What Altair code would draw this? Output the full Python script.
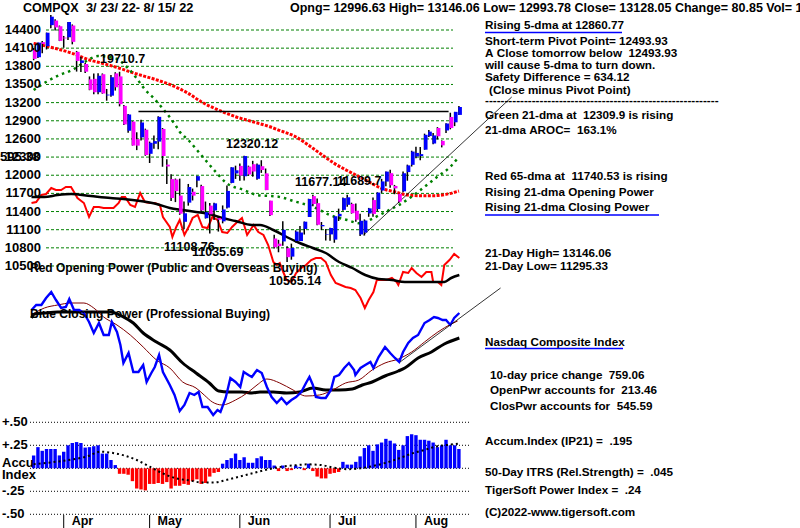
import altair as alt
import pandas as pd

FONT = "Liberation Sans"

# ---------------- data ----------------
opens = [14070,13950,14199,14133,14480,14556,14462,14274,14280,14474,
         14039,13856,13838,13584,13593,13372,13669,13319,13315,13683,
         13633,13146,12735,12886,12596,12625,12752,12354,12520,12556,
         12765,12175,11936,11930,11664,11230,11547,11727,11910,11821,
         11290,11498,11418,11291,11238,11465,11873,12030,12154,11983,
         12143,12182,11941,12149,12031,11580,10954,10869,10906,10794,
         10655,10912,10912,11112,11310,11655,11539,11156,11020,11022,
         10936,11320,11428,11511,11526,11413,11021,11053,11368,11590,
         11441,11747,11895,12034,11823,11692,11734,12052,12172,12310,
         12318,12422,12647,12524,12781,12567,12740,12963,12875,12997]
highs = [14103,14193,14220,14357,14646,14578,14474,14302,14534,14492,
         14054,13957,13857,13633,13680,13685,13682,13426,13656,13702,
         13710,13160,13012,12894,12710,12915,12770,12556,12658,12975,
         12781,12263,12016,11945,11944,11564,11856,11779,11993,11843,
         11565,11542,11545,11325,11501,11831,12131,12158,12195,12320,
         12158,12238,12192,12248,12111,11580,11015,10932,11239,10826,
         10870,11089,11159,11235,11612,11676,11614,11227,11110,11130,
         11324,11448,11631,11677,11546,11533,11362,11270,11460,11631,
         11719,11940,12060,12090,11840,11693,12060,12175,12405,12469,
         12466,12687,12749,12697,12795,12576,12861,13033,13047,13146]
lows = [13900,13938,14017,14078,14431,14393,14217,14107,14234,14163,
        13713,13705,13691,13405,13340,13340,13346,13232,13296,13399,
        13138,12830,12701,12490,12415,12575,12322,12202,12436,12430,
        12140,11857,11575,11556,11346,11109,11497,11583,11800,11390,
        11284,11036,11261,11069,11205,11450,11867,11939,11910,11913,
        11992,11976,11926,12039,11754,11325,10789,10727,10835,10565,
        10604,10888,10912,11020,11310,11487,11173,11093,10921,10917,
        10884,11244,11413,11481,11365,11232,10996,11003,11313,11315,
        11410,11707,11817,11795,11686,11540,11717,11909,12144,12279,
        12246,12422,12633,12512,12591,12460,12696,12759,12812,12994]
closes = [13922.60,14191.84,14169.30,14354.90,14619.64,14442.27,14220.52,14261.50,14532.55,14204.17,
          13888.82,13897.30,13711.00,13411.96,13371.57,13643.59,13351.08,13332.36,13619.66,13453.07,
          13174.65,12839.29,13004.85,12490.74,12488.93,12871.53,12334.64,12536.02,12563.76,12964.86,
          12317.69,12144.66,11623.25,11737.67,11364.24,11370.96,11805.00,11662.79,11984.52,11418.15,
          11388.50,11354.62,11535.27,11264.45,11434.74,11740.65,12131.13,12081.39,11994.46,12316.90,
          12012.73,12061.37,12175.23,12086.27,11754.23,11340.02,10809.23,10828.35,11099.15,10646.10,
          10798.35,11069.30,11053.08,11232.19,11607.62,11524.55,11181.54,11177.89,11028.74,11127.85,
          11322.24,11361.85,11621.35,11635.31,11372.60,11264.73,11247.58,11251.19,11452.42,11360.05,
          11713.15,11897.65,12059.61,11834.11,11782.67,11562.57,12032.42,12162.59,12390.69,12368.98,
          12348.76,12668.16,12720.58,12657.55,12644.46,12493.93,12854.80,12779.91,13047.19,13128.05]
days = list(range(100))

ma21_day = [0,3,6,9,12,15,19,22,24,26,28,30,33,34,36,39,42,45,49,52,57,61,65,69,73,76,79,82,85,88,91,94,97,99]
ma21_val = [13408,13545,13656,13739,13876,13970,13932,13767,13600,13408,13271,13106,12830,12719,12582,12334,
            12086,11866,11755,11673,11645,11562,11479,11342,11260,11205,11287,11397,11507,11645,11810,11975,12140,12306]
ma65_day = [0,5,9,13,16,20,24,28,32,36,39,43,47,51,55,57,61,65,70,75,78,81,84,87,90,93,96,99]
ma65_val = [14180,14097,14015,13904,13850,13767,13673,13590,13491,13353,13215,13078,12967,12884,12801,12747,
            12636,12445,12196,12003,11893,11782,11727,11673,11661,11661,11684,11740]

op_day = [-0.5,0.6,1.8,2.9,4.1,5.2,6.4,7.5,8.7,9.4,10.2,11.7,12.9,14.0,15.2,16.3,17.5,18.6,19.8,20.5,21.3,22.5,
          23.6,24.8,25.9,27.1,28.2,29.4,30.1,31.7,32.3,33.2,34.0,35.1,36.3,37.0,38.2,39.3,40.5,41.6,42.8,43.9,
          45.1,46.2,47.4,48.5,49.7,51.2,52.3,53.5,54.6,55.8,56.6,57.3,58.1,58.9,60.0,61.1,62.3,63.4,64.6,65.7,
          66.9,68.0,69.2,70.3,71.5,72.6,73.8,74.9,76.1,77.1,78.0,79.1,79.9,81.1,82.2,83.4,84.5,84.9,86.0,87.2,
          88.0,89.1,90.3,91.4,92.6,93.0,94.1,94.9,95.6,96.8,97.9,99.1]
op_val = [97,98,105,106,112,110,110,113,113,108,102,97,83,93,93,92,92,92,97,103,103,95,
          93,107,98,97,97,95,83,73,63,73,80,65,75,82,85,73,72,83,80,68,
          67,73,78,82,65,75,68,65,55,38,35,37,28,20,18,27,32,35,40,42,
          42,38,25,17,15,13,12,10,2,-8,0,8,20,20,20,22,18,15,28,27,
          32,27,23,28,28,18,18,15,35,40,46,42]
opma_day = [-0.5,2.5,5.6,8.7,13.3,17.9,20.9,24.8,28.6,31.7,34.7,37.8,40.9,43.9,47.0,50.8,52.7,55.8,58.9,
            61.9,65.0,68.0,71.1,74.2,77.2,80.3,83.4,86.4,89.5,92.6,95.6,97.2,99.1]
opma_val = [103,103,105,106,104,102,101,99,96,92,90,88,86,82,79,75,75,70,63,
            57,52,47,38,32,25,21,20,18,18,18,18,22,25]

cp_day = [-0.5,0.6,1.8,2.9,4.1,5.2,6.4,7.5,8.3,9.4,10.6,11.7,12.9,14.0,15.2,16.3,17.5,18.2,19.4,20.2,20.9,
          22.1,23.2,24.4,25.5,26.3,27.4,28.2,29.2,30.1,31.7,32.8,34.0,35.1,36.3,37.4,38.4,39.3,40.5,41.8,42.8,
          43.5,44.7,45.8,47.0,48.1,48.9,50.0,50.8,52.0,53.1,54.3,55.4,56.6,57.7,58.9,60.0,61.1,62.3,63.4,64.2,
          65.0,65.7,66.9,68.0,69.2,70.0,71.1,72.3,73.4,74.6,74.9,76.1,77.2,78.4,79.1,80.3,81.8,83.0,84.1,85.1,
          86.0,87.2,88.3,89.5,91.0,92.2,93.2,94.1,95.2,96.0,97.0,97.9,99.1]
cp_val = [110,115,115,122,128,120,112,113,121,110,110,107,98,87,97,85,85,98,88,75,57,
          67,48,48,55,38,47,53,65,48,35,25,9,15,27,25,28,13,13,5,10,
          8,22,42,38,33,48,45,43,50,47,33,23,17,22,16,20,23,28,37,43,
          35,23,22,22,30,43,45,52,57,50,45,52,55,58,52,63,73,67,62,58,
          68,77,82,85,97,100,103,102,100,100,95,102,107]
cpma_day = [-0.5,0.2,2.5,5.6,13.3,17.9,20.9,23.2,25.5,28.6,31.7,34.7,37.8,40.9,43.1,45.4,48.5,50.8,52.7,
            55.8,58.9,61.9,65.0,68.0,71.1,74.2,76.5,78.8,81.8,84.9,86.4,89.5,92.6,95.6,99.1]
cpma_val = [102,106,107,108,108,108,103,97,87,78,70,57,47,37,29,28,28,27,28,
            28,27,28,32,30,30,31,35,38,44,49,52,62,68,76,82]
cpma2_day = [-0.5,2.5,5.6,8.7,11.7,14.0,16.3,19.4,22.5,25.5,28.6,31.7,34.7,37.8,39.7,41.6,43.9,47.0,49.7,
             52.0,54.3,57.3,60.4,63.4,66.5,69.6,72.6,75.7,78.8,81.8,84.9,88.0,91.0,94.1,97.2,98.7]
cpma2_val = [105,112,115,117,117,112,103,95,85,73,60,52,38,32,25,18,15,20,27,
             35,41,37,30,24,25,30,37,40,50,57,61,68,78,88,96,99]

acc = [0.14,0.23,0.19,0.21,0.21,0.21,0.14,0.18,0.25,0.275,
       0.285,0.275,0.225,0.23,0.24,0.25,0.16,0.16,0.09,0.035,
       -0.06,-0.06,-0.07,-0.14,-0.22,-0.23,-0.24,-0.17,-0.17,-0.16,
       -0.17,-0.15,-0.22,-0.19,-0.19,-0.17,-0.18,-0.14,-0.12,-0.17,
       -0.16,-0.09,-0.05,-0.04,0.05,0.09,0.11,0.16,0.09,0.12,
       0.06,0.06,0.11,0.13,0.09,0.09,0.03,-0.03,0.03,-0.03,
       -0.02,0.03,0.015,-0.02,0.05,-0.03,-0.09,-0.11,-0.11,-0.06,
       -0.05,-0.04,0.07,0.04,0.04,0.07,0.13,0.22,0.25,0.19,
       0.26,0.28,0.32,0.30,0.27,0.20,0.25,0.35,0.37,0.36,
       0.31,0.31,0.30,0.28,0.23,0.25,0.31,0.25,0.25,0.21]
accma_day = [0,5,9,12.5,15.6,18,21,24,27,30,33,36,39.3,42,45,48,51,54.7,57.7,60.7,63.8,66.8,69.9,73,76,
             79,82,85,88,91,94,97,99]
accma_val = [0.043,0.07,0.096,0.13,0.18,0.17,0.14,0.09,0.018,-0.054,-0.107,-0.13,-0.154,-0.154,-0.125,-0.09,
             -0.054,-0.01,0.018,0.032,0.043,0.036,0.007,-0.01,0,0.025,0.06,0.107,0.16,0.2,0.24,0.257,0.268]

price_ticks = [14400,14100,13800,13500,13200,12900,12600,12300,12000,11700,11400,11100,10800,10500]
acc_grid = [0.5,0.25,0,-0.25,-0.5]
acc_ticks = [0.5,0.25,-0.25,-0.5]
acc_tick_labels = ['+.50','+.25','-.25','-.50']
months = ['Apr','May','Jun','Jul','Aug']
month_day = [7,27,48,69,89]

resist_day = [24.4]
resist_day2 = [96.6]
resist_val = [13055]
trend_day = [76.8,111.3]
trend_val = [11012,13293]
cptrend_day = [85.3,108.7]
cptrend_val = [58,132]

# ---------------- scales ----------------
XS = alt.Scale(domain=[-6.667, 177.24], nice=False, zero=False)
PS = [6170.2, 14895.8]
OPS = [-228, 300]
CPS = [-108, 420]
ACS = [-0.649, 5.090]


def xq(f='day'):
    return alt.X(f + ':Q', scale=XS, axis=None)


def yq(f, dom):
    return alt.Y(f + ':Q', scale=alt.Scale(domain=dom, zero=False, nice=False), axis=None)


price = pd.DataFrame({'day': days, 'o': opens, 'h': highs, 'l': lows, 'c': closes})
layers = []

# price gridlines
layers.append(alt.Chart(pd.DataFrame({'p': price_ticks})).mark_rule(color='#008000', strokeWidth=1, strokeDash=[3, 2])
              .encode(y=yq('p', PS), x=alt.value(46), x2=alt.value(453)))
# accumulation gridlines
layers.append(alt.Chart(pd.DataFrame({'a': acc_grid})).mark_rule(color='black', strokeWidth=1, strokeDash=[1, 2])
              .encode(y=yq('a', ACS), x=alt.value(30), x2=alt.value(470)))

# opening power
layers.append(alt.Chart(pd.DataFrame({'day': op_day, 'v': op_val})).mark_line(color='#ff0000', strokeWidth=2)
              .encode(x=xq(), y=yq('v', OPS)))
layers.append(alt.Chart(pd.DataFrame({'day': opma_day, 'v': opma_val})).mark_line(color='black', strokeWidth=2.5, interpolate='monotone')
              .encode(x=xq(), y=yq('v', OPS)))
# closing power
layers.append(alt.Chart(pd.DataFrame({'day': cpma_day, 'v': cpma_val})).mark_line(color='black', strokeWidth=3, interpolate='monotone')
              .encode(x=xq(), y=yq('v', CPS)))
layers.append(alt.Chart(pd.DataFrame({'day': cpma2_day, 'v': cpma2_val})).mark_line(color='#800000', strokeWidth=1, interpolate='monotone')
              .encode(x=xq(), y=yq('v', CPS)))
layers.append(alt.Chart(pd.DataFrame({'day': cp_day, 'v': cp_val})).mark_line(color='#0000ff', strokeWidth=2.4)
              .encode(x=xq(), y=yq('v', CPS)))
layers.append(alt.Chart(pd.DataFrame({'day': cptrend_day, 'v': cptrend_val})).mark_line(color='black', strokeWidth=0.8)
              .encode(x=xq(), y=yq('v', CPS)))

# moving averages on price
layers.append(alt.Chart(pd.DataFrame({'day': ma65_day, 'v': ma65_val})).mark_line(color='#ff0000', strokeWidth=3, strokeDash=[3, 1.4], interpolate='monotone')
              .encode(x=xq(), y=yq('v', PS)))
layers.append(alt.Chart(pd.DataFrame({'day': ma21_day, 'v': ma21_val})).mark_line(color='#008000', strokeWidth=2.5, strokeDash=[2.5, 4], interpolate='monotone')
              .encode(x=xq(), y=yq('v', PS)))
# resistance and trend lines
layers.append(alt.Chart(pd.DataFrame({'day': resist_day, 'day2': resist_day2, 'v': resist_val})).mark_rule(color='black', strokeWidth=1.5)
              .encode(x=xq(), x2='day2:Q', y=yq('v', PS)))
layers.append(alt.Chart(pd.DataFrame({'day': trend_day, 'v': trend_val})).mark_line(color='black', strokeWidth=0.8)
              .encode(x=xq(), y=yq('v', PS)))

# candles
layers.append(alt.Chart(price).mark_rule(color='black', strokeWidth=1.5)
              .encode(x=xq(), y=yq('l', PS), y2='h:Q'))
layers.append(alt.Chart(price).mark_bar(size=3.6, xOffset=1.2)
              .encode(x=xq(), y=yq('o', PS), y2='c:Q',
                      color=alt.condition('datum.c >= datum.o', alt.value('#0000ff'), alt.value('#ff00ff'))))

# accumulation index
layers.append(alt.Chart(pd.DataFrame({'day': days, 'a': acc})).mark_bar(size=3.4)
              .encode(x=xq(), y=yq('a', ACS), y2=alt.datum(0),
                      color=alt.condition('datum.a >= 0', alt.value('#0000ff'), alt.value('#ff0000'))))
layers.append(alt.Chart(pd.DataFrame({'day': accma_day, 'a': accma_val})).mark_line(color='black', strokeWidth=2, strokeDash=[2, 3], interpolate='monotone')
              .encode(x=xq(), y=yq('a', ACS)))

# month ticks and labels
mdf = pd.DataFrame({'day': month_day, 'm': months})
layers.append(alt.Chart(mdf).mark_rule(color='black', strokeWidth=1)
              .encode(x=xq(), y=alt.value(515), y2=alt.value(528)))
layers.append(alt.Chart(mdf).mark_text(align='left', baseline='middle', dx=8, font=FONT, fontWeight='bold', fontSize=12.5, color='black')
              .encode(x=xq(), y=alt.value(521), text='m:N'))

# price axis labels
layers.append(alt.Chart(pd.DataFrame({'p': price_ticks, 't': [str(v) for v in price_ticks]}))
              .mark_text(align='right', baseline='middle', font=FONT, fontWeight='bold', fontSize=13, color='black')
              .encode(x=alt.value(41), y=yq('p', PS), text='t:N'))
# accumulation axis labels
layers.append(alt.Chart(pd.DataFrame({'a': acc_ticks, 't': acc_tick_labels}))
              .mark_text(align='left', baseline='middle', font=FONT, fontWeight='bold', fontSize=13, color='black')
              .encode(x=alt.value(2), y=yq('a', ACS), text='t:N'))


def txt(s, x, y, size=12, align='left'):
    s = s.replace(' ', '\u00a0')
    return (alt.Chart(pd.DataFrame({'t': [s]}))
            .mark_text(align=align, baseline='middle', font=FONT, fontWeight='bold', fontSize=size, color='black')
            .encode(x=alt.value(x), y=alt.value(y), text='t:N'))


def uline(x1, x2, y):
    return (alt.Chart(pd.DataFrame({'k': [0]})).mark_rule(color='#0000ff', strokeWidth=1.5)
            .encode(x=alt.value(x1), x2=alt.value(x2), y=alt.value(y)))


# header
layers.append(txt('COMPQX', 23, 8, 12.5))
layers.append(txt('3/ 23/ 22- 8/ 15/ 22', 86, 8, 12.8))
layers.append(txt('Opng= 12996.63 High= 13146.06 Low= 12993.78 Close= 13128.05 Change= 80.85 Vol= 1', 290, 8, 12.5))

# annotations
layers.append(txt('595.38', 0, 157, 13))
layers.append(txt('19710.7', 100, 59, 12.5))
layers.append(txt('12320.12', 226, 144, 12.5))
layers.append(txt('11677.14', 295, 182, 12.5))
layers.append(txt('11689.7', 337, 181, 12.5))
layers.append(txt('11108.76', 164, 247, 12.5))
layers.append(txt('11035.69', 192, 252, 12.5))
layers.append(txt('10565.14', 269, 281, 12.5))
layers.append(txt('Red Opening Power (Public and Overseas Buying)', 30, 268, 12))
layers.append(txt('Blue Closing Power (Professional Buying)', 30, 314, 12))
layers.append(txt('Accu', 2, 463, 13))
layers.append(txt('Index', 2, 475, 13))

# right-hand text column
side = [
    ('Rising 5-dma at 12860.77', 485, 25),
    ('Short-term Pivot Point= 12493.93', 485, 41),
    ('A Close tomorrow below  12493.93', 485, 53),
    ('will cause 5-dma to turn down.', 485, 65),
    ('Safety Difference = 634.12', 485, 77),
    ('(Close minus Pivot Point)', 489, 90),
    ('------------------------------------------------------------', 485, 100),
    ('Green 21-dma at  12309.9 is rising', 485, 115),
    ('21-dma AROC=  163.1%', 485, 130),
    ('Red 65-dma at  11740.53 is rising', 485, 176),
    ('Rising 21-dma Opening Power', 485, 191.5),
    ('Rising 21-dma Closing Power', 485, 206.5),
    ('21-Day High= 13146.06', 485, 252.5),
    ('21-Day Low= 11295.33', 485, 265.5),
    ('Nasdaq Composite Index', 485, 342),
    ('10-day price change  759.06', 490, 375),
    ('OpenPwr accounts for  213.46', 490, 390),
    ('ClosPwr accounts for  545.59', 490, 406),
    ('Accum.Index (IP21) =  .195', 485, 440.5),
    ('50-Day ITRS (Rel.Strength) =  .045', 485, 472),
    ('TigerSoft Power Index =  .24', 485, 490),
    ('(C)2022-www.tigersoft.com', 485, 511.5),
]
for s, x, y in side:
    layers.append(txt(s, x, y, 11.7))
layers.append(uline(485, 622, 32.5))
layers.append(uline(485, 659, 215))
layers.append(uline(485, 623, 348.5))

chart = (alt.layer(*layers)
         .resolve_scale(y='independent')
         .properties(width=800, height=528, padding=0, background='white',
                     autosize=alt.AutoSizeParams(type='none'))
         .configure_view(stroke=None))

chart.save("out.html", embed_options={"renderer": "svg", "actions": False})
